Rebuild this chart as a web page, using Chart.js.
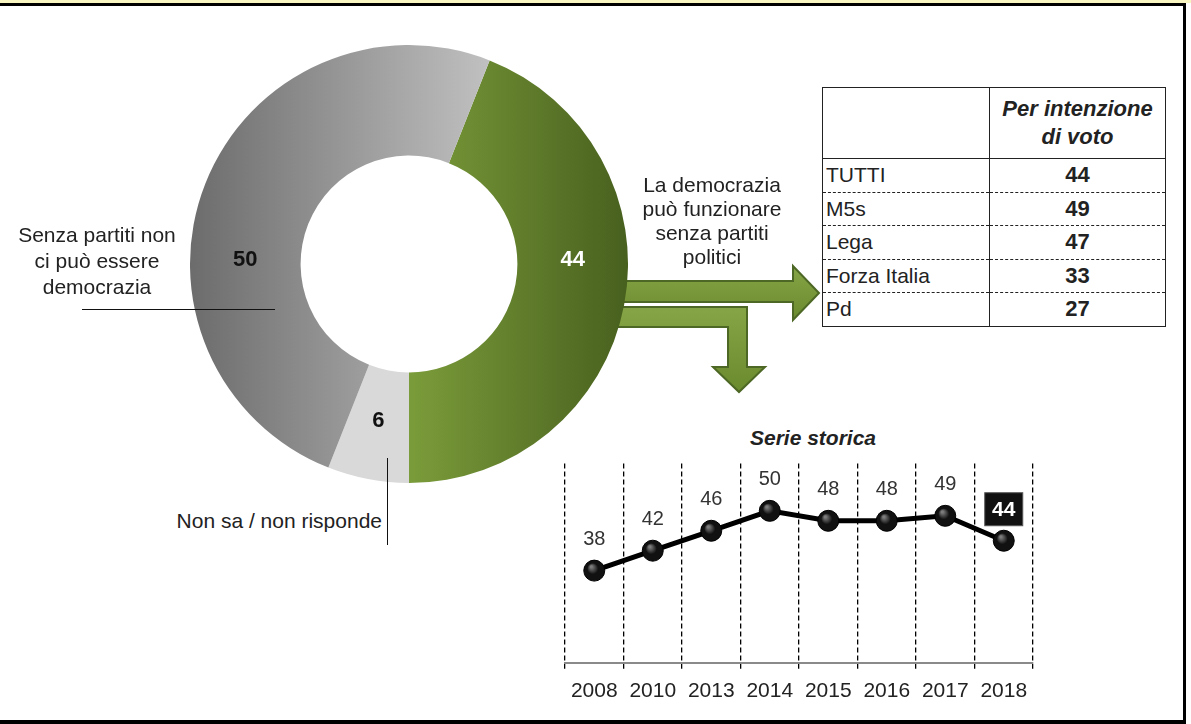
<!DOCTYPE html>
<html>
<head>
<meta charset="utf-8">
<script src="https://cdn.jsdelivr.net/npm/chart.js@4/dist/chart.umd.min.js"></script>
<style>
 body{margin:0;width:1191px;height:724px;background:#fff;position:relative;overflow:hidden;font-family:"Liberation Sans",Arial,sans-serif;color:#222;}
 .abs{position:absolute;}
 #topband{left:0;top:0;width:1191px;height:3px;background:#faf6c2;}
 #frame{left:-10px;top:3px;width:1193px;height:714px;border-top:3px solid #000;border-right:3px solid #000;border-bottom:4px solid #000;}
 .txt{font-size:21px;line-height:26px;text-align:center;white-space:nowrap;}
 #tab{left:822px;top:87px;border-collapse:collapse;font-size:21px;border:1.5px solid #222;}
 #tab td{padding:0 3px;height:32.5px;}
 #tab td.v{text-align:center;font-weight:bold;border-left:1.5px solid #222;width:169px;font-size:22px;}
 #tab tr.r td{border-top:1px dashed #222;}
 #tab tr.h td{height:70px;border-bottom:1.5px solid #222;}
</style>
</head>
<body>
<div id="topband" class="abs"></div>
<div id="frame" class="abs"></div>

<svg class="abs" style="left:0;top:0" width="1191" height="724">
 <defs>
  <linearGradient id="ag" x1="0" y1="0" x2="0" y2="1">
   <stop offset="0" stop-color="#86a546"/>
   <stop offset="1" stop-color="#6a8a2e"/>
  </linearGradient>
 </defs>
 <polygon points="612,281 793,281 793,266 819,293 793,320 793,302 612,302" fill="url(#ag)" stroke="#4d6725" stroke-width="2"/>
 <polygon points="612,307 747,307 747,367 765,367 739,392 713,367 728,367 728,327 612,327" fill="url(#ag)" stroke="#4d6725" stroke-width="2"/>
</svg>

<canvas id="pie" class="abs" style="left:190px;top:45px" width="438" height="438"></canvas>

<div class="abs txt" style="left:-3px;top:222px;width:200px;">Senza partiti non<br>ci può essere<br>democrazia</div>
<div class="abs" style="left:82px;top:309px;width:193px;height:1px;background:#111;"></div>
<div class="abs txt" style="left:130px;top:508px;width:252px;text-align:right;">Non sa / non risponde</div>
<div class="abs" style="left:387px;top:458px;width:1px;height:87px;background:#111;"></div>
<div class="abs txt" style="left:612px;top:173px;width:200px;line-height:24px;">La democrazia<br>può funzionare<br>senza partiti<br>politici</div>

<table id="tab" class="abs">
 <tr class="h"><td style="width:160px"></td><td class="v" style="font-style:italic;line-height:28px;">Per intenzione<br>di voto</td></tr>
</table>

<div class="abs" style="left:663px;top:426px;width:300px;text-align:center;font-size:21px;font-weight:bold;font-style:italic;">Serie storica</div>
<canvas id="trend" class="abs" style="left:545px;top:452px" width="510" height="262"></canvas>

<script>
// doughnut
var pie_labels=["La democrazia può funzionare senza partiti politici","Non sa / non risponde","Senza partiti non ci può essere democrazia"];
var pie_values=[44,6,50];

// table
var group_names=["TUTTI","M5s","Lega","Forza Italia","Pd"];
var group_values=[44,49,47,33,27];

// serie storica
var years=["2008","2010","2013","2014","2015","2016","2017","2018"];
var trend_values=[38,42,46,50,48,48,49,44];

var tab=document.getElementById("tab");
for(var i=0;i<group_names.length;i++)
{
 var tr=document.createElement("tr");
 if(i>0) tr.className="r";
 tr.innerHTML="<td>"+group_names[i]+"</td><td class='v'>"+group_values[i]+"</td>";
 tab.appendChild(tr);
}

function pieColor(c)
{
 var a=c.chart.chartArea;
 if(!a) return "#999";
 var ctx=c.chart.ctx;
 var cx=(a.left+a.right)/2;
 if(c.dataIndex==0){
  var g=ctx.createLinearGradient(cx,0,a.right,0);
  g.addColorStop(0,"#7b9c3a");
  g.addColorStop(1,"#48601e");
  return g;
 }
 if(c.dataIndex==1) return "#d9d9d9";
 var g2=ctx.createLinearGradient(a.left,0,cx+90,0);
 g2.addColorStop(0,"#6c6c6c");
 g2.addColorStop(1,"#c3c3c3");
 return g2;
}

// value labels inside the ring; big slices get their label at 3 / 9 o'clock
var pieLabels={
 id:"pieLabels",
 afterDatasetsDraw:function(chart)
 {
  var ctx=chart.ctx;
  var meta=chart.getDatasetMeta(0);
  ctx.save();
  ctx.font="bold 22px 'Liberation Sans', Arial";
  ctx.textAlign="center";
  ctx.textBaseline="middle";
  meta.data.forEach(function(arc,i){
   var p=arc.getProps(["x","y","startAngle","endAngle","innerRadius","outerRadius"]);
   var r=(p.innerRadius+p.outerRadius)/2;
   var ang=(p.startAngle+p.endAngle)/2;
   var tau=Math.PI*2;
   [0,Math.PI].forEach(function(t){
    for(var k=-1;k<=1;k++){
     var tt=t+k*tau;
     if(tt>p.startAngle+0.3 && tt<p.endAngle-0.3) ang=tt;
    }
   });
   ctx.fillStyle=i==0?"#fff":"#111";
   ctx.fillText(pie_values[i],p.x+r*Math.cos(ang),p.y+r*Math.sin(ang)-4);
  });
  ctx.restore();
 }
};

new Chart(document.getElementById("pie"),{
 type:"doughnut",
 data:{
  labels:pie_labels,
  datasets:[{
   data:pie_values,
   backgroundColor:pieColor,
   borderWidth:0
  }]
 },
 options:{
  responsive:false,
  animation:false,
  rotation:21.6,
  cutout:"49.5%",
  layout:{padding:0},
  plugins:{legend:{display:false},tooltip:{enabled:false}}
 },
 plugins:[pieLabels]
});

var trendLabels={
 id:"trendLabels",
 afterDatasetsDraw:function(chart)
 {
  var ctx=chart.ctx;
  var pts=chart.getDatasetMeta(0).data;
  ctx.save();
  ctx.textAlign="center";
  ctx.textBaseline="middle";
  pts.forEach(function(pt,i){
   var x=pt.x,y=pt.y-32;
   // little shine on the ball
   var g=ctx.createRadialGradient(pt.x-3,pt.y-4,1,pt.x,pt.y,10);
   g.addColorStop(0,"rgba(255,255,255,0.45)");
   g.addColorStop(0.5,"rgba(255,255,255,0)");
   ctx.fillStyle=g;
   ctx.beginPath();ctx.arc(pt.x,pt.y,10,0,Math.PI*2);ctx.fill();
   if(i==pts.length-1){
    ctx.fillStyle="#111";
    ctx.fillRect(x-19,y-16,38,33);
    ctx.strokeStyle="#555";
    ctx.strokeRect(x-19,y-16,38,33);
    ctx.fillStyle="#fff";
    ctx.font="bold 21px 'Liberation Sans', Arial";
   }else{
    ctx.fillStyle="#333";
    ctx.font="20px 'Liberation Sans', Arial";
   }
   ctx.fillText(trend_values[i],x,y+1);
  });
  ctx.restore();
 }
};

new Chart(document.getElementById("trend"),{
 type:"line",
 data:{
  labels:years,
  datasets:[{
   data:trend_values,
   borderColor:"#000",
   borderWidth:5,
   pointRadius:10.5,
   pointBackgroundColor:"#111",
   pointBorderColor:"#000",
   pointBorderWidth:1,
   tension:0,
   fill:false
  }]
 },
 options:{
  responsive:false,
  animation:false,
  layout:{padding:{left:20,right:22,top:8,bottom:0}},
  scales:{
   x:{
    offset:true,
    grid:{offset:true,color:"#000",lineWidth:1.3,tickLength:6},
    border:{display:true,color:"#8a8a8a",width:2,dash:[5,3]},
    ticks:{color:"#222",padding:10,font:{size:21,family:"'Liberation Sans', Arial"}}
   },
   y:{display:false,min:19.5,max:59.5}
  },
  plugins:{legend:{display:false},tooltip:{enabled:false}}
 },
 plugins:[trendLabels]
});
</script>
</body>
</html>
